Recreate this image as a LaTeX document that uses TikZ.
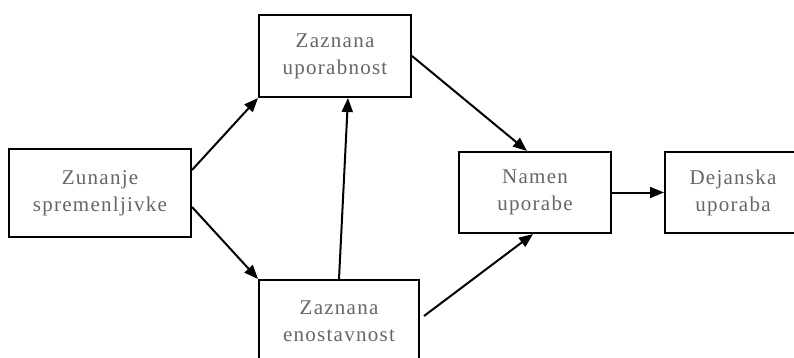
\documentclass[tikz,border=0pt]{standalone}
\usepackage{fontspec}
\setmainfont{Liberation Serif}[LetterSpace=6]
\usetikzlibrary{arrows.meta}
\definecolor{labelgray}{HTML}{666666}
\begin{document}
\begin{tikzpicture}[x=1pt,y=-1pt,
  box/.style={draw=black,line width=2pt,rectangle,inner sep=0pt,
    text=labelgray,align=center,
    font=\fontsize{21}{27}\selectfont},
  link/.style={line width=2pt,-{Triangle[length=14pt,width=11pt]}}]
\useasboundingbox (0,0) rectangle (794,358);

\node[box,minimum width=182pt,minimum height=88pt] (zun) at (100,193) {Zunanje\\spremenljivke};
\node[box,minimum width=152pt,minimum height=82pt] (upo) at (335,56) {Zaznana\\uporabnost};
\node[box,minimum width=160pt,minimum height=82pt] (eno) at (339,321) {Zaznana\\enostavnost};
\node[box,minimum width=152pt,minimum height=81pt] (nam) at (535,192.5) {Namen\\uporabe};
\node[box,minimum width=136pt,minimum height=81pt] (dej) at (733,192.5) {Dejanska\\uporaba};

\draw[link] ([yshift=23pt]zun.east) -- (upo.south west);
\draw[link] ([yshift=-14pt]zun.east) -- (eno.north west);
\draw[link] (eno.north) -- ([xshift=13pt]upo.south);
\draw[link] (upo.east) -- ([xshift=-8pt]nam.north);
\draw[link] ([xshift=4pt,yshift=5pt]eno.east) -- ([xshift=-2pt]nam.south);
\draw[link] (nam.east) -- (dej.west);
\end{tikzpicture}
\end{document}
